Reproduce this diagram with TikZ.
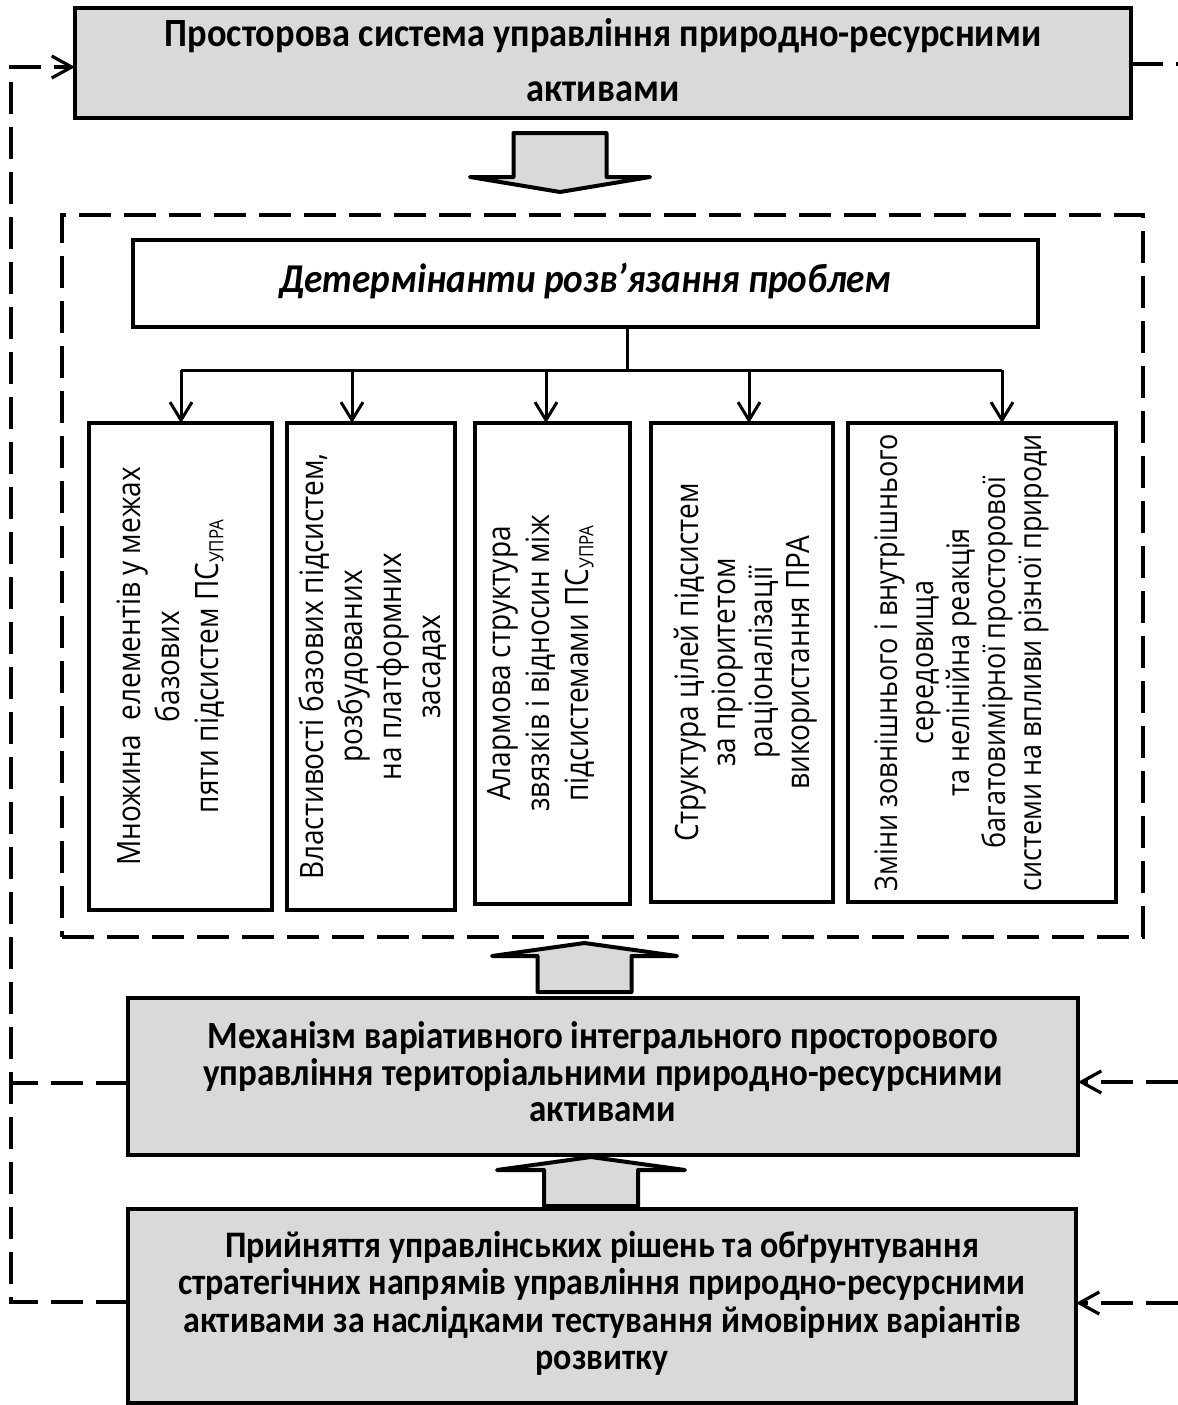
\documentclass[tikz,border=0pt]{standalone}
\usepackage{graphicx}
\usepackage{fontspec}
\setmainfont{Carlito}
\newfontfamily\boxfont{Open Sans}
\usetikzlibrary{arrows.meta}

% block arrow: centre x, base y, neck y, tip y, half body width, half head width
\newcommand\fatarrow[6]{%
  \draw[fat] ({#1-#5},#2) -- ({#1+#5},#2) -- ({#1+#5},#3) -- ({#1+#6},#3)
    -- (#1,#4) -- ({#1-#6},#3) -- ({#1-#5},#3) -- cycle;}
% centred lines, glyphs stretched vertically by #1
\newcommand\tall[2]{\scalebox{1}[#1]{\begin{tabular}{@{}c@{}}#2\end{tabular}}}
\newcommand\sub[1]{\raisebox{-0.3ex}{\fontsize{8.5}{9}\selectfont #1}}

\begin{document}
\begin{tikzpicture}[x=0.5pt,y=-0.5pt,
  graybox/.style={draw, line width=2pt, fill=boxgray, inner sep=0pt, outer sep=0pt,
    font=\bfseries},
  whitebox/.style={draw, line width=2pt, fill=white, inner sep=0pt, outer sep=0pt},
  vtext/.style={rotate=90, inner sep=0pt, font=\boxfont\fontsize{14}{16.9}\selectfont},
  frame/.style={draw, line width=2pt, dash pattern=on 16pt off 6.5pt, inner sep=0pt},
  tree/.style={line width=1.5pt, -{Straight Barb[length=9pt,width=11pt,line width=1.5pt]}},
  bus/.style={line width=1.5pt},
  fb/.style={line width=1.6pt, dash pattern=on 16pt off 6.5pt},
  fbarrow/.style={fb, -{Straight Barb[length=10pt,width=11pt,line width=1.6pt]}},
  fat/.style={draw, line width=2pt, fill=boxgray, line join=round}
]
\definecolor{boxgray}{HTML}{D9D9D9}
\useasboundingbox (0,0) rectangle (1178,1405);

% main boxes
\node[graybox, minimum width=528pt, minimum height=54.5pt] (top) at (603,62.5)
  {\fontsize{18.2}{25}\selectfont\tall{1.1}{Просторова система управління природно-ресурсними\\активами}};

\node[frame, minimum width=540.5pt, minimum height=361pt] (frame) at (602.5,576) {};

\node[whitebox, minimum width=452.5pt, minimum height=43.5pt] (det) at (585.5,283.5)
  {\bfseries\itshape\fontsize{18.6}{20}\selectfont\tall{1.1}{Детермінанти розв’язання проблем}};

\node[whitebox, minimum width=91.5pt, minimum height=243.5pt] (b1) at (180.5,666.5) {};
\node[whitebox, minimum width=84pt,   minimum height=243.5pt] (b2) at (371,666.5) {};
\node[whitebox, minimum width=77.5pt, minimum height=240.5pt] (b3) at (552.5,663.5) {};
\node[whitebox, minimum width=91pt,   minimum height=239.5pt] (b4) at (742,662.5) {};
\node[whitebox, minimum width=134pt,  minimum height=239.5pt] (b5) at (982,662.5) {};

\node[vtext] (t1) at ([xshift=-4.5pt]b1.center)
  {\tall{1.15}{Множина\ \ елементів у межах\\базових\\пяти підсистем ПС\sub{УПРА}}};
\node[vtext] (t2) at ([xshift=1.5pt]b2.center)
  {\tall{1.15}{Властивості базових підсистем,\\розбудованих\\на платформних\\засадах}};
\node[vtext] (t3) at ([xshift=-5.5pt]b3.center)
  {\tall{1.15}{Алармова структура\\звязків і відносин між\\підсистемами ПС\sub{УПРА}}};
\node[vtext, font=\boxfont\fontsize{14}{16.1}\selectfont] (t4) at ([xshift=2.5pt]b4.center)
  {\tall{1.15}{Структура цілей підсистем\\за пріоритетом\\раціоналізації\\використання ПРА}};
\node[vtext, font=\boxfont\fontsize{13.5}{15.65}\selectfont] (t5) at ([xshift=-10pt]b5.center)
  {\tall{1.15}{Зміни зовнішнього і внутрішнього\\середовища\\та нелінійна реакція\\багатовимірної просторової\\системи на впливи різної природи}};

\node[graybox, minimum width=475pt, minimum height=78.5pt] (mech) at (603,1076.5)
  {\fontsize{17.5}{16.1}\selectfont\tall{1.1}{Механізм варіативного інтегрального просторового\\
   управління територіальними природно-ресурсними\\активами}};

\node[graybox, minimum width=474pt, minimum height=97pt] (dec) at (602,1306)
  {\fontsize{17}{17.1}\selectfont\tall{1.1}{Прийняття управлінських рішень та обґрунтування\\
   стратегічних напрямів управління природно-ресурсними\\
   активами за наслідками тестування ймовірних варіантів\\розвитку}};

% branching from the determinants box
\coordinate (hub) at (627,370);
\coordinate (j1) at (181,370);
\coordinate (j2) at (352,370);
\coordinate (j3) at (546,370);
\coordinate (j4) at (749,370);
\coordinate (j5) at (1002,370);
\draw[bus] (det.south -| hub) -- (hub);
\draw[bus] (j1) -- (j5);
\draw[tree] (j1) -- (j1 |- b1.north);
\draw[tree] (j2) -- (j2 |- b2.north);
\draw[tree] (j3) -- (j3 |- b3.north);
\draw[tree] (j4) -- (j4 |- b4.north);
\draw[tree] (j5) -- (j5 |- b5.north);

% wide block arrows
\fatarrow{560}{133}{177}{192}{46.5}{90}
\fatarrow{584.5}{992}{956}{943}{47}{92.5}
\fatarrow{591}{1206}{1170}{1157}{47}{94}

% feedback loop on the left
\coordinate (fbTop) at (11,67);
\coordinate (fbMid) at (11,1083);
\coordinate (fbBot) at (11,1302);
\draw[fbarrow] (fbBot -| dec.west) -- (fbBot) -- (fbTop) -- (fbTop -| top.west);
\draw[fb] (fbMid -| mech.west) -- (fbMid);

% links on the right
\coordinate (rTop) at (1178,64);
\coordinate (rMid) at (1178,1082);
\coordinate (rBot) at (1178,1303);
\draw[fb] (rTop -| top.east) -- (rTop);
\draw[fbarrow] (rMid) -- (rMid -| mech.east);
\draw[fbarrow] (rBot) -- (rBot -| dec.east);
\end{tikzpicture}
\end{document}
